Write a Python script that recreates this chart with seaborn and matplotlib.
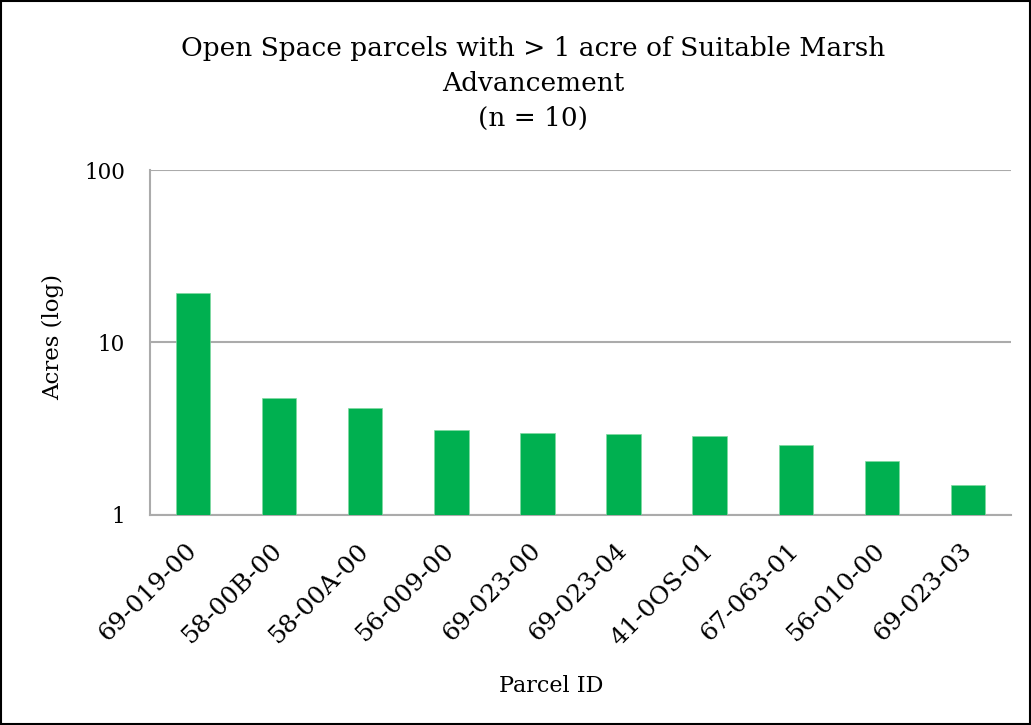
import numpy as np
import pandas as pd
import matplotlib
matplotlib.use("Agg")
import matplotlib.pyplot as plt
import seaborn as sns

# Values (log scale)
parcels = ["69-019-00", "58-00B-00", "58-00A-00", "56-009-00", "69-023-00",
           "69-023-04", "41-0OS-01", "67-063-01", "56-010-00", "69-023-03"]
acres = [19.4, 4.75, 4.19, 3.10, 2.98, 2.95, 2.87, 2.54, 2.05, 1.49]
yticks = [1, 10, 100]
ytick_labels = ["1", "10", "100"]

df = pd.DataFrame({"Parcel ID": parcels, "Acres": acres})

sns.set_theme(style="white")
plt.rcParams["font.family"] = ["DejaVu Serif"]
plt.rcParams["text.color"] = "black"
plt.rcParams["axes.labelcolor"] = "black"
plt.rcParams["xtick.color"] = "black"
plt.rcParams["ytick.color"] = "black"

fig = plt.figure(figsize=(10.31, 7.25), dpi=100)
ax = fig.add_axes([0.1455, 0.2897, 0.8351, 0.4758])

sns.barplot(data=df, x="Parcel ID", y="Acres", color="#00b050", width=0.4,
            saturation=1, edgecolor="#7fd9a0", linewidth=0.5, ax=ax, zorder=3)

ax.set_yscale("log")
ax.set_ylim(1, 100)
ax.set_yticks(yticks)
ax.set_yticklabels(ytick_labels, fontsize=15.5)
ax.minorticks_off()
ax.yaxis.grid(True, color="#ababab", linewidth=1.5, zorder=0)
ax.tick_params(axis="y", length=0, pad=18)
ax.tick_params(axis="x", length=0, pad=23)
plt.setp(ax.get_xticklabels(), rotation=45, ha="right", va="center",
         rotation_mode="anchor", fontsize=18)

for side in ["top", "right"]:
    ax.spines[side].set_visible(False)
for side in ["left", "bottom"]:
    ax.spines[side].set_color("#ababab")
    ax.spines[side].set_linewidth(1.5)

ax.set_xlabel("Parcel ID", fontsize=16, va="center")
ax.xaxis.set_label_coords(0.4657, -0.4957)
ax.set_ylabel("Acres (log)", fontsize=16.5)
ax.yaxis.set_label_coords(-0.0999, 0.516)

fig.text(0.517, 0.951, "Open Space parcels with > 1 acre of Suitable Marsh\nAdvancement\n(n = 10)",
         ha="center", va="top", fontsize=19, linespacing=1.5)

# black border round the whole chart
fig.patches.append(plt.Rectangle((0.001, 0.001), 0.998, 0.997, transform=fig.transFigure,
                                 fill=False, edgecolor="black", linewidth=1.5))

plt.savefig("out.png", dpi=100)
